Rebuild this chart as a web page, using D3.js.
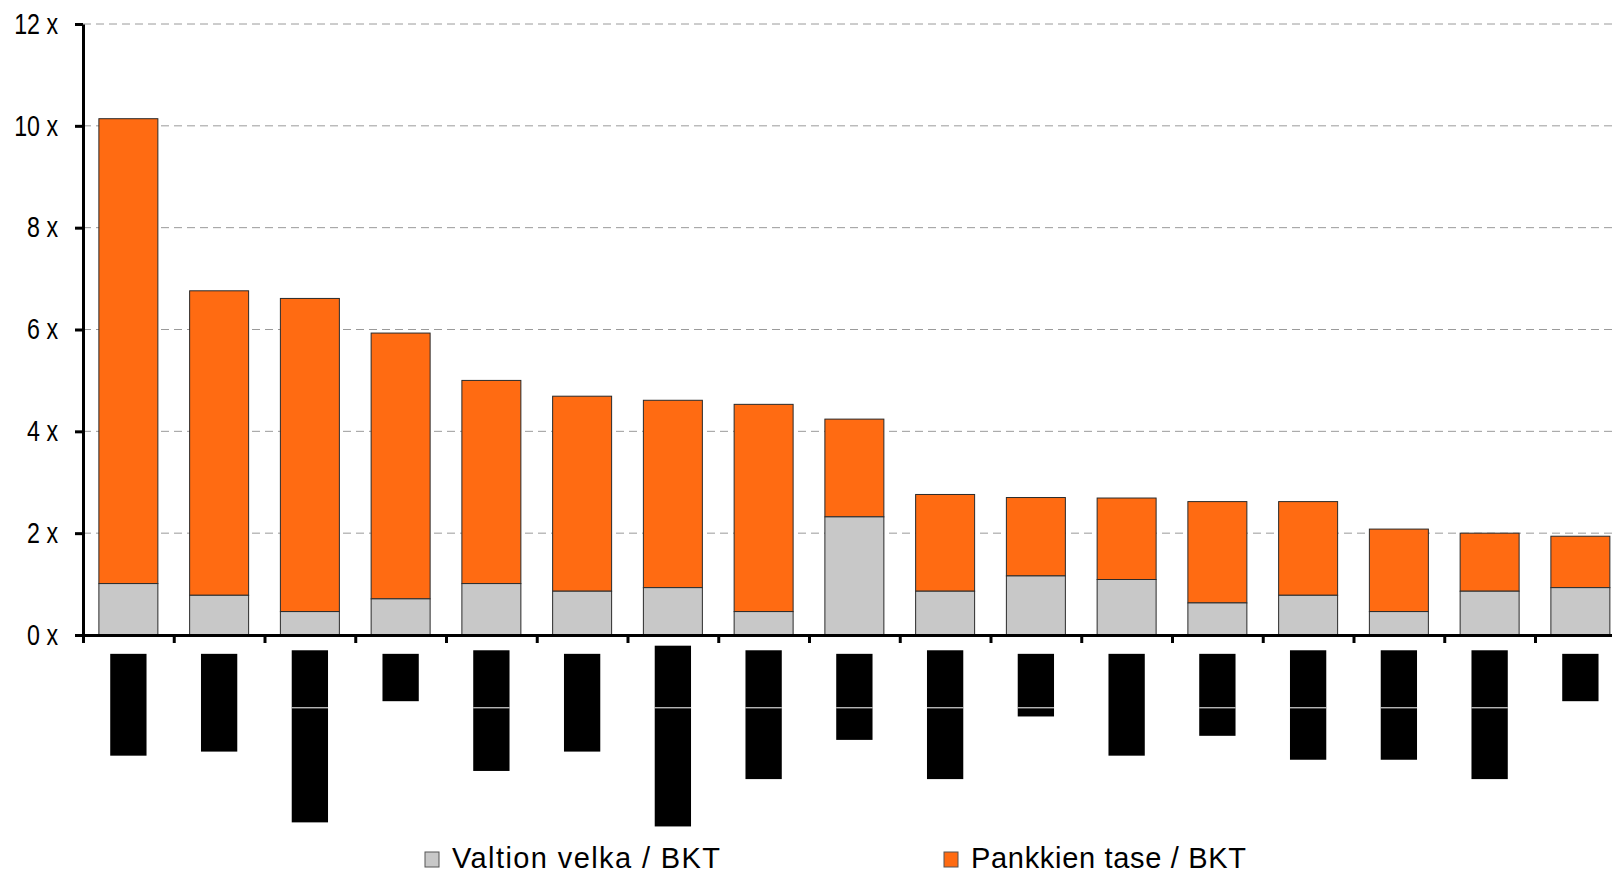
<!DOCTYPE html>
<html>
<head>
<meta charset="utf-8">
<script src="https://d3js.org/d3.v7.min.js"></script>
<style>
  body { margin: 0; background: #fff; overflow: hidden; }
  svg { display: block; }
</style>
</head>
<body>
<div id="chart"></div>
<script>
// Categories (the country labels are blacked out in the source)
const categories = ["c1", "c2", "c3", "c4", "c5", "c6", "c7", "c8", "c9",
    "c10", "c11", "c12", "c13", "c14", "c15", "c16", "c17"];

// Valtion velka / BKT
const valtionVelka = [1.01, 0.78, 0.46, 0.71, 1.01, 0.86, 0.93, 0.46, 2.32,
    0.86, 1.16, 1.09, 0.63, 0.78, 0.46, 0.86, 0.93];

// Pankkien tase / BKT (bar total)
const pankkienTase = [10.14, 6.76, 6.61, 5.93, 5.00, 4.69, 4.61, 4.53, 4.24,
    2.76, 2.70, 2.69, 2.62, 2.62, 2.08, 2.00, 1.94];

// blacked-out label blocks under the axis, in the same "x" units
const labelTop = [-0.37, -0.37, -0.30, -0.37, -0.30, -0.37, -0.21, -0.30, -0.37,
    -0.30, -0.37, -0.37, -0.37, -0.30, -0.30, -0.30, -0.37];
const labelBottom = [-2.37, -2.29, -3.68, -1.30, -2.67, -2.29, -3.76, -2.83, -2.06,
    -2.83, -1.60, -2.37, -1.98, -2.45, -2.45, -2.83, -1.30];
const labelRule = [false, false, true, false, true, false, true, true, true,
    true, true, false, true, true, true, true, false];

const yTicks = [0, 2, 4, 6, 8, 10, 12];
const seriesNames = ["Valtion velka / BKT", "Pankkien tase / BKT"];
const colors = ["#c8c8c8", "#ff6b12"];

const width = 1612, height = 875;
const axisX = 83, step = 90.75;

const svg = d3.select("#chart")
    .append("svg")
    .attr("width", width)
    .attr("height", height);

const x = d3.scaleBand()
    .domain(categories)
    .range([axisX, axisX + categories.length * step])
    .paddingInner(0.35)
    .paddingOuter(0.175);

const xLab = d3.scaleBand()
    .domain(categories)
    .range([axisX, axisX + categories.length * step])
    .paddingInner(0.6)
    .paddingOuter(0.3);

const xEdge = d3.scaleLinear()
    .domain([0, categories.length])
    .range([axisX, axisX + categories.length * step]);

const y = d3.scaleLinear()
    .domain([0, 12])
    .range([635, 24]);

// Gridlines
svg.append("g")
    .selectAll("line")
    .data(yTicks.filter(d => d > 0))
    .enter()
    .append("line")
    .attr("x1", axisX)
    .attr("x2", width)
    .attr("y1", d => y(d))
    .attr("y2", d => y(d))
    .attr("stroke", "#9a9a9a")
    .attr("stroke-width", 1)
    .attr("stroke-dasharray", "8,5");

// Stacked bars
const data = categories.map((c, i) => ({ cat: c, grey: valtionVelka[i], total: pankkienTase[i] }));

svg.append("g")
    .selectAll("rect")
    .data(data)
    .enter()
    .append("rect")
    .attr("x", d => x(d.cat))
    .attr("y", d => y(d.total))
    .attr("width", x.bandwidth())
    .attr("height", d => y(d.grey) - y(d.total))
    .attr("fill", colors[1])
    .attr("stroke", "#2a2a2a")
    .attr("stroke-width", 1);

svg.append("g")
    .selectAll("rect")
    .data(data)
    .enter()
    .append("rect")
    .attr("x", d => x(d.cat))
    .attr("y", d => y(d.grey))
    .attr("width", x.bandwidth())
    .attr("height", d => y(0) - y(d.grey))
    .attr("fill", colors[0])
    .attr("stroke", "#2a2a2a")
    .attr("stroke-width", 1);

// Label blocks
const labels = categories.map((c, i) => ({ cat: c, top: labelTop[i], bottom: labelBottom[i], rule: labelRule[i] }));

svg.append("g")
    .selectAll("rect")
    .data(labels)
    .enter()
    .append("rect")
    .attr("x", d => xLab(d.cat))
    .attr("y", d => y(d.top))
    .attr("width", xLab.bandwidth())
    .attr("height", d => y(d.bottom) - y(d.top))
    .attr("fill", "#000");

svg.append("g")
    .selectAll("line")
    .data(labels.filter(d => d.rule))
    .enter()
    .append("line")
    .attr("x1", d => xLab(d.cat))
    .attr("x2", d => xLab(d.cat) + xLab.bandwidth())
    .attr("y1", y(-1.43))
    .attr("y2", y(-1.43))
    .attr("stroke", "#fff")
    .attr("stroke-width", 1);

// Axes
const yAxis = svg.append("g")
    .attr("transform", `translate(${axisX},0)`)
    .call(d3.axisLeft(y)
        .tickValues(yTicks)
        .tickSize(8)
        .tickSizeOuter(0)
        .tickPadding(17)
        .tickFormat(d => d + " x"));

yAxis.selectAll("path, line")
    .attr("stroke", "#000")
    .attr("stroke-width", 3);

yAxis.selectAll("text")
    .attr("fill", "#000")
    .style("font-family", "'Liberation Sans', Arial, sans-serif")
    .style("font-size", "29px")
    .each(function () {
        // squeeze to the narrow face of the original
        const w = this.getComputedTextLength();
        d3.select(this)
            .attr("textLength", w * 0.8)
            .attr("lengthAdjust", "spacingAndGlyphs");
    });

const xAxis = svg.append("g")
    .attr("transform", `translate(0,${y(0)})`)
    .call(d3.axisBottom(xEdge)
        .tickValues(d3.range(0, categories.length + 1))
        .tickSize(8)
        .tickSizeOuter(0)
        .tickFormat(""));

xAxis.selectAll("path, line")
    .attr("stroke", "#000")
    .attr("stroke-width", 3);

// Legend
const legendX = [425, 944];
const legend = svg.append("g");

seriesNames.forEach((name, i) => {
    legend.append("rect")
        .attr("x", legendX[i])
        .attr("y", 852)
        .attr("width", 14)
        .attr("height", 15)
        .attr("fill", colors[i])
        .attr("stroke", "#555")
        .attr("stroke-width", 1);

    const t = legend.append("text")
        .attr("x", legendX[i] + 27)
        .attr("y", 868)
        .attr("fill", "#000")
        .style("font-family", "'Liberation Sans', Arial, sans-serif")
        .style("font-size", "29px")
        .text(name);
    t.attr("textLength", i === 0 ? 268 : 275)
        .attr("lengthAdjust", "spacing");
});
</script>
</body>
</html>
